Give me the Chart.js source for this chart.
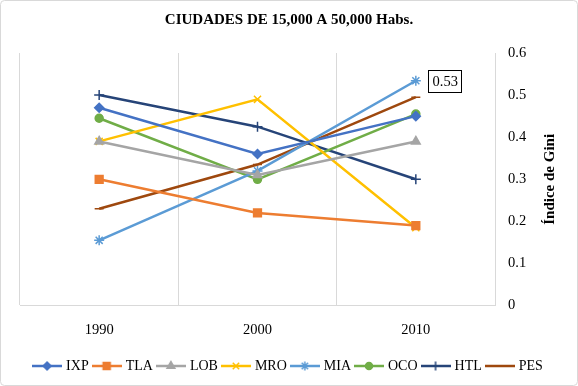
<!DOCTYPE html>
<html>
<head>
<meta charset="utf-8">
<script src="https://cdn.jsdelivr.net/npm/chart.js@4.4.0/dist/chart.umd.min.js"></script>
<style>
body { margin: 0; background: #fff; }
</style>
</head>
<body>
<canvas id="myChart" width="578" height="386"></canvas>
<script>
//============== DATA ===============
const years = ['1990', '2000', '2010'];
const cityCodes = ['IXP', 'TLA', 'LOB', 'MRO', 'MIA', 'OCO', 'HTL', 'PES'];
const ixp = [0.47, 0.36, 0.45];
const tla = [0.30, 0.22, 0.19];
const lob = [0.39, 0.31, 0.39];
const mro = [0.39, 0.49, 0.185];
const mia = [0.155, 0.32, 0.534];
const oco = [0.445, 0.30, 0.455];
const htl = [0.50, 0.425, 0.30];
const pes = [0.23, 0.335, 0.495];
const yTicks = [0, 0.1, 0.2, 0.3, 0.4, 0.5, 0.6];

const chartTitle = 'CIUDADES DE 15,000 A 50,000 Habs.';
const yTitle = 'Índice de Gini';

//============== STYLE ===============
const serif = "'Liberation Serif', 'Times New Roman', serif";
const colors = ['#4472C4', '#ED7D31', '#A5A5A5', '#FFC000', '#5B9BD5', '#70AD47', '#264478', '#9E480E'];
const markers = ['rectRot', 'rect', 'triangle', 'crossRot', 'star', 'circle', 'cross', 'line'];
const radii = [4.5, 5.5, 5, 5, 5, 4, 5, 4.5];
const seriesValues = [ixp, tla, lob, mro, mia, oco, htl, pes];

Chart.defaults.font.family = serif;
Chart.defaults.color = '#000';

const datasets = cityCodes.map((code, i) => ({
  label: code,
  data: seriesValues[i],
  yAxisID: 'y',
  borderColor: colors[i],
  backgroundColor: colors[i],
  pointBackgroundColor: colors[i],
  pointBorderColor: colors[i],
  pointStyle: markers[i],
  pointRadius: radii[i],
  pointBorderWidth: 1.5,
  borderWidth: 2.5,
  tension: 0
}));

// small line + marker picture for the legend
function legendIcon(i) {
  const c = document.createElement('canvas');
  c.width = 30;
  c.height = 12;
  const g = c.getContext('2d');
  g.strokeStyle = colors[i];
  g.fillStyle = colors[i];
  g.lineWidth = 2.5;
  g.beginPath();
  g.moveTo(0, 6);
  g.lineTo(30, 6);
  g.stroke();
  g.lineWidth = 1.5;
  Chart.helpers.drawPoint(g, {pointStyle: markers[i], radius: radii[i] - 0.5, borderWidth: 1.5, rotation: 0}, 15, 6);
  return c;
}

const framePlugin = {
  id: 'frame',
  beforeDraw(chart) {
    const ctx = chart.ctx;
    ctx.save();
    ctx.fillStyle = '#fff';
    ctx.fillRect(0, 0, chart.width, chart.height);
    ctx.restore();
  },
  afterDraw(chart) {
    const ctx = chart.ctx;
    ctx.save();
    ctx.strokeStyle = '#d9d9d9';
    ctx.lineWidth = 1;
    ctx.beginPath();
    ctx.roundRect(0.5, 0.5, chart.width - 1, chart.height - 1, 4);
    ctx.stroke();

    // value axis title, reading bottom to top
    const area = chart.chartArea;
    ctx.translate(550, (area.top + area.bottom) / 2);
    ctx.rotate(-Math.PI / 2);
    ctx.font = 'bold 15px ' + serif;
    ctx.fillStyle = '#000';
    ctx.textAlign = 'center';
    ctx.textBaseline = 'middle';
    ctx.fillText(yTitle, 0, 0);
    ctx.restore();
  }
};

// data label on the last MIA point
const labelPlugin = {
  id: 'miaLabel',
  afterDatasetsDraw(chart) {
    const ctx = chart.ctx;
    const k = cityCodes.indexOf('MIA');
    const pt = chart.getDatasetMeta(k).data[2];
    const txt = mia[2].toFixed(2);
    ctx.save();
    ctx.font = '14.5px ' + serif;
    const w = Math.round(ctx.measureText(txt).width) + 8;
    const x = Math.round(pt.x) + 12;
    const y = Math.round(pt.y) - 11;
    ctx.fillStyle = '#fff';
    ctx.fillRect(x, y, w, 22);
    ctx.strokeStyle = '#000';
    ctx.lineWidth = 1;
    ctx.strokeRect(x + 0.5, y + 0.5, w, 22);
    ctx.fillStyle = '#000';
    ctx.textBaseline = 'middle';
    ctx.fillText(txt, x + 4.5, y + 12);
    ctx.restore();
  }
};

const myChart = document.getElementById('myChart');

let lineChart = new Chart(myChart, {
  type: 'line',
  data: {
    labels: years,
    datasets: datasets
  },
  options: {
    responsive: false,
    animation: false,
    layout: {
      padding: {left: 0, right: 0, top: 0, bottom: 3}
    },
    plugins: {
      title: {
        display: true,
        text: chartTitle,
        font: {size: 15, weight: 'bold', family: serif},
        color: '#000',
        padding: {top: 11, bottom: 24}
      },
      legend: {
        position: 'bottom',
        labels: {
          usePointStyle: true,
          pointStyleWidth: 24,
          padding: 6,
          font: {size: 14, family: serif},
          color: '#000',
          generateLabels(chart) {
            return chart.data.datasets.map((ds, i) => ({
              text: ds.label,
              fillStyle: colors[i],
              strokeStyle: colors[i],
              lineWidth: 0,
              pointStyle: legendIcon(i),
              datasetIndex: i,
              hidden: false,
              fontColor: '#000'
            }));
          }
        }
      },
      tooltip: {enabled: false}
    },
    scales: {
      x: {
        offset: true,
        grid: {
          offset: true,
          color: '#d9d9d9',
          drawTicks: false
        },
        border: {color: '#d9d9d9'},
        afterFit(scale) {
          scale.height -= 2;
        },
        ticks: {
          padding: 16,
          font: {size: 14.5, family: serif},
          color: '#000'
        }
      },
      // empty left axis, only keeps the plot 20px from the left edge
      spacer: {
        type: 'linear',
        position: 'left',
        display: true,
        min: 0,
        max: 1,
        grid: {display: false},
        border: {display: false},
        ticks: {display: false},
        afterFit(scale) {
          scale.width = 20;
        }
      },
      y: {
        position: 'right',
        min: 0,
        max: 0.6,
        grid: {display: false, drawTicks: false},
        border: {display: true, color: '#d9d9d9'},
        afterBuildTicks(scale) {
          scale.ticks = yTicks.map(v => ({value: v}));
        },
        afterFit(scale) {
          scale.width = 83;
        },
        ticks: {
          padding: 13,
          font: {size: 14.5, family: serif},
          color: '#000'
        }
      }
    }
  },
  plugins: [framePlugin, labelPlugin]
});
</script>
</body>
</html>
